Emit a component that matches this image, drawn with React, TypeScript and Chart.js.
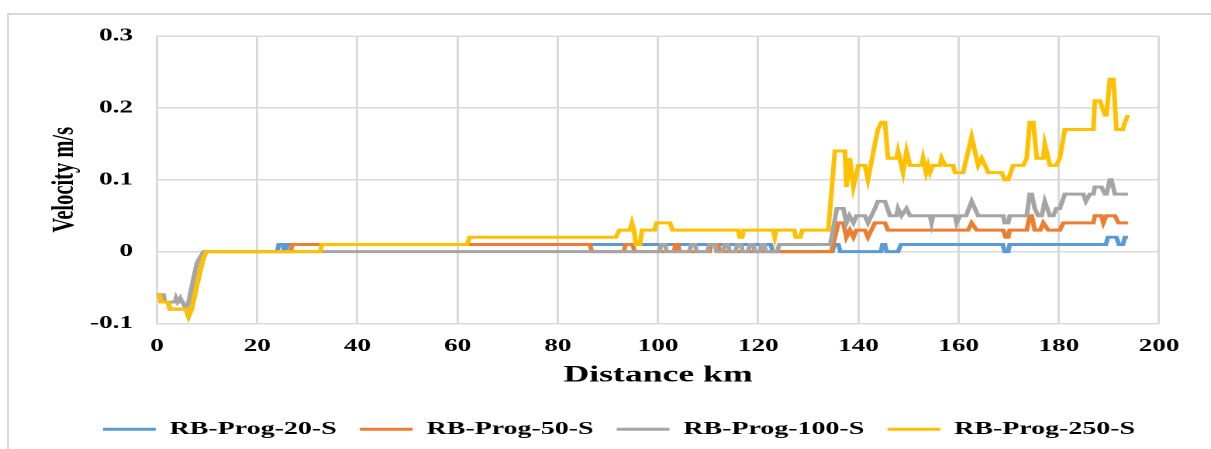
import React, { useEffect, useRef } from "react";
import { Chart, registerables } from "chart.js";

Chart.register(...registerables);

// ---------- data ----------
const seriesLabels = ["RB-Prog-20-S", "RB-Prog-50-S", "RB-Prog-100-S", "RB-Prog-250-S"];
const seriesColors = ["#5B9BD5", "#ED7D31", "#A5A5A5", "#FFC000"];

const xTickValues = [0, 20, 40, 60, 80, 100, 120, 140, 160, 180, 200];
const yTickValues = [-0.1, 0, 0.1, 0.2, 0.3];

const blueKm = [0, 0.5, 0.8, 2.2, 2.6, 5.8, 6.3, 6.9, 8, 9.2, 9.8, 24, 24.3, 25.1, 25.4, 25.7, 26, 122.5, 122.9, 134.8, 135.2, 136, 136.4, 144.5, 144.8, 145.3, 145.6, 147.9, 148.5, 168.8, 169.2, 169.9, 170.2, 189.4, 189.8, 191.5, 192, 192.8, 193.2, 193.8];
const blueVel = [-0.06, -0.06, -0.07, -0.07, -0.08, -0.08, -0.09, -0.08, -0.045, -0.01, 0, 0, 0.01, 0.01, 0, 0, 0.01, 0.01, 0, 0, 0.01, 0.01, 0, 0, 0.01, 0.01, 0, 0, 0.01, 0.01, 0, 0, 0.01, 0.01, 0.02, 0.02, 0.01, 0.01, 0.02, 0.02];

const orangeKm = [0, 0.5, 0.8, 2.2, 2.6, 5.8, 6.3, 6.9, 8, 9.2, 9.8, 26.7, 27, 86.4, 86.8, 93.2, 93.5, 95, 95.3, 103.2, 103.5, 104, 104.3, 110.3, 110.6, 112, 112.3, 134.6, 136, 137, 137.6, 138.3, 139, 139.6, 141.3, 141.9, 143.3, 145.3, 145.9, 161.9, 162.6, 163.6, 168.9, 169.4, 169.9, 170.2, 173.6, 174.2, 174.6, 175.2, 176.3, 176.9, 177.9, 180.2, 180.9, 186.9, 187.2, 188.5, 188.9, 189.5, 191.2, 191.9, 193.8];
const orangeVel = [-0.06, -0.06, -0.07, -0.07, -0.08, -0.08, -0.09, -0.08, -0.045, -0.01, 0, 0, 0.01, 0.01, 0, 0, 0.01, 0.01, 0, 0, 0.01, 0.01, 0, 0, 0.01, 0.01, 0, 0, 0.04, 0.04, 0.02, 0.03, 0.02, 0.03, 0.03, 0.02, 0.04, 0.04, 0.03, 0.03, 0.04, 0.03, 0.03, 0.02, 0.02, 0.03, 0.03, 0.05, 0.05, 0.03, 0.03, 0.04, 0.03, 0.03, 0.04, 0.04, 0.05, 0.05, 0.04, 0.05, 0.05, 0.04, 0.04];

const grayKm = [0, 1.3, 1.6, 3.6, 3.8, 4.1, 4.6, 4.8, 5.1, 5.8, 6.3, 7.2, 8, 9.3, 100.3, 100.6, 101.4, 101.7, 106.3, 106.6, 107.4, 107.7, 109.9, 110.2, 111.4, 111.7, 113, 113.3, 114, 114.3, 115.5, 115.8, 116.6, 116.9, 118, 118.3, 119, 119.3, 120.4, 120.7, 121.2, 121.5, 123.8, 124.2, 134.4, 135.7, 137, 137.6, 138.2, 139, 139.6, 141.3, 141.9, 143.3, 143.9, 145.3, 146.3, 147.6, 147.9, 148.6, 149.6, 150.3, 154.3, 154.6, 154.9, 159.3, 159.6, 160.3, 161.5, 162.6, 163.9, 168.9, 169.2, 169.9, 170.2, 173.6, 174.2, 174.6, 175.2, 175.9, 176.6, 177.2, 178.2, 178.9, 179.5, 180.2, 181.2, 184.9, 185.4, 186.2, 186.9, 187.2, 188.5, 189.2, 189.5, 190.2, 190.5, 191.2, 193.8];
const grayVel = [-0.06, -0.06, -0.07, -0.07, -0.065, -0.07, -0.065, -0.07, -0.07, -0.08, -0.07, -0.04, -0.015, 0, 0, 0.01, 0.01, 0, 0, 0.01, 0.01, 0, 0, 0.01, 0.01, 0, 0, 0.01, 0.01, 0, 0, 0.01, 0.01, 0, 0, 0.01, 0.01, 0, 0, 0.01, 0.01, 0, 0, 0.01, 0.01, 0.06, 0.06, 0.04, 0.05, 0.04, 0.05, 0.05, 0.04, 0.06, 0.07, 0.07, 0.05, 0.05, 0.06, 0.05, 0.06, 0.05, 0.05, 0.04, 0.05, 0.05, 0.04, 0.05, 0.05, 0.07, 0.05, 0.05, 0.04, 0.04, 0.05, 0.05, 0.08, 0.08, 0.06, 0.05, 0.05, 0.07, 0.05, 0.05, 0.06, 0.06, 0.08, 0.08, 0.07, 0.08, 0.08, 0.09, 0.09, 0.08, 0.08, 0.1, 0.1, 0.08, 0.08];

const yellowKm = [0, 0.5, 0.8, 2.2, 2.6, 5.8, 6.3, 6.9, 8, 9.2, 9.8, 32.6, 32.9, 61.9, 62.4, 91.6, 92.3, 94.4, 94.8, 95.2, 95.6, 96.4, 96.8, 99.3, 99.7, 102.4, 102.9, 116, 116.3, 116.8, 117.1, 123, 123.3, 123.6, 127.2, 127.5, 128.4, 128.8, 134, 135.3, 137.3, 137.6, 138.3, 139, 140, 141.3, 141.9, 143.3, 143.9, 144.6, 145.3, 145.9, 147.6, 147.9, 148.9, 149.6, 150.3, 152.6, 152.9, 153.5, 153.9, 154.3, 154.9, 156.3, 156.6, 157.3, 158.9, 159.3, 160.9, 162.6, 163.9, 164.6, 165.3, 165.9, 168.6, 169.2, 169.9, 170.9, 172.9, 173.6, 174.2, 174.9, 175.6, 176.9, 177.2, 177.9, 178.2, 179.5, 180.2, 181.2, 186.9, 187.2, 188.2, 189.2, 189.5, 190.2, 190.9, 191.5, 192.8, 193.2, 193.8];
const yellowVel = [-0.06, -0.06, -0.07, -0.07, -0.08, -0.08, -0.09, -0.08, -0.045, -0.01, 0, 0, 0.01, 0.01, 0.02, 0.02, 0.03, 0.03, 0.04, 0.03, 0.01, 0.01, 0.03, 0.03, 0.04, 0.04, 0.03, 0.03, 0.02, 0.02, 0.03, 0.03, 0.02, 0.03, 0.03, 0.02, 0.02, 0.03, 0.03, 0.14, 0.14, 0.09, 0.13, 0.09, 0.12, 0.12, 0.1, 0.15, 0.17, 0.18, 0.18, 0.13, 0.13, 0.14, 0.11, 0.14, 0.12, 0.12, 0.13, 0.11, 0.12, 0.11, 0.12, 0.12, 0.13, 0.12, 0.12, 0.11, 0.11, 0.16, 0.12, 0.13, 0.12, 0.11, 0.11, 0.1, 0.1, 0.12, 0.12, 0.13, 0.18, 0.18, 0.13, 0.13, 0.15, 0.13, 0.12, 0.12, 0.13, 0.17, 0.17, 0.21, 0.21, 0.19, 0.19, 0.24, 0.24, 0.17, 0.17, 0.18, 0.19];

const seriesKm = [blueKm, orangeKm, grayKm, yellowKm];
const seriesVel = [blueVel, orangeVel, grayVel, yellowVel];

// ---------- layout ----------
const PAGE_W = 1211;
const PAGE_H = 449;
const W = 781; // logical canvas width, stretched horizontally to page width
const H = 449;
const SX = PAGE_W / W;
const FONT = "'Liberation Serif', 'Times New Roman', serif";
const GRID = "#d9d9d9";
const LEGEND_START = 103 / SX;

export default function App() {
  const ref = useRef<HTMLCanvasElement | null>(null);

  useEffect(() => {
    if (!ref.current) return;
    const datasets = seriesLabels.map((label, i) => ({
      label,
      data: seriesKm[i].map((x, j) => ({ x, y: seriesVel[i][j] })),
      borderColor: seriesColors[i],
      backgroundColor: seriesColors[i],
      borderWidth: 3,
      pointRadius: 0,
      pointHoverRadius: 0,
      tension: 0,
      fill: false,
      order: seriesLabels.length - i,
      pointStyle: "line" as const,
    }));

    const legendShift = {
      id: "legendShift",
      afterLayout(chart: any) {
        const l = chart.legend;
        if (!l) return;
        const pad = l.options.labels.padding;
        const d = LEGEND_START - (l.left + pad);
        l.left += d;
        l.right += d;
      },
    };

    const chart = new Chart(ref.current, {
      type: "line",
      data: { datasets },
      plugins: [legendShift],
      options: {
        responsive: false,
        animation: false,
        devicePixelRatio: 2,
        layout: { padding: { left: 0, right: W - 1159 / SX, top: 36, bottom: 0.75 } },
        plugins: {
          tooltip: { enabled: false },
          legend: {
            position: "bottom",
            align: "start",
            labels: {
              usePointStyle: true,
              pointStyleWidth: 34,
              padding: 15,
              color: "#000",
              font: { family: FONT, size: 18, weight: "bold" },
              sort: (a: any, b: any) => a.datasetIndex - b.datasetIndex,
            },
          },
        },
        scales: {
          x: {
            type: "linear",
            min: xTickValues[0],
            max: xTickValues[xTickValues.length - 1],
            afterBuildTicks: (scale: any) => {
              scale.ticks = xTickValues.map((v) => ({ value: v }));
            },
            ticks: {
              padding: 12.5,
              maxRotation: 0,
              color: "#000",
              font: { family: FONT, size: 17.5, weight: "bold" },
              callback: (v: any) => String(v),
            },
            grid: { color: GRID, lineWidth: 1.5, drawTicks: false },
            border: { color: GRID, width: 1.5 },
            title: {
              display: true,
              text: "Distance km",
              color: "#000",
              font: { family: FONT, size: 23, weight: "bold" },
              padding: { top: 0, bottom: 16 },
            },
            afterFit: (scale: any) => {
              scale.height = 81.75;
            },
          },
          y: {
            type: "linear",
            min: yTickValues[0],
            max: yTickValues[yTickValues.length - 1],
            afterBuildTicks: (scale: any) => {
              scale.ticks = yTickValues.map((v) => ({ value: v }));
            },
            ticks: {
              padding: 15.5,
              color: "#000",
              font: { family: FONT, size: 17.5, weight: "bold" },
              callback: (v: any) => String(Number(Number(v).toFixed(2))),
            },
            grid: { color: GRID, lineWidth: 1.5, drawTicks: false },
            border: { color: GRID, width: 1.5 },
            title: {
              display: true,
              text: "Velocity m/s",
              color: "#000",
              font: { family: FONT, size: 20.5, weight: "bold" },
              padding: { top: 29.6, bottom: 0 },
            },
            afterFit: (scale: any) => {
              scale.width = 157 / SX;
            },
          },
        },
      },
    } as any);

    return () => chart.destroy();
  }, []);

  return (
    <div
      style={{
        position: "absolute",
        left: 0,
        top: 0,
        width: PAGE_W,
        height: PAGE_H,
        overflow: "hidden",
        background: "#fff",
      }}
    >
      <div
        style={{
          position: "absolute",
          left: 7,
          top: 13,
          width: PAGE_W + 20,
          height: PAGE_H + 20,
          borderLeft: `2px solid ${GRID}`,
          borderTop: `2px solid ${GRID}`,
        }}
      />
      <div
        style={{
          position: "absolute",
          left: 0,
          top: 0,
          width: W,
          height: H,
          transform: `scaleX(${SX})`,
          transformOrigin: "0 0",
        }}
      >
        <canvas ref={ref} width={W} height={H} style={{ display: "block" }} />
      </div>
    </div>
  );
}
